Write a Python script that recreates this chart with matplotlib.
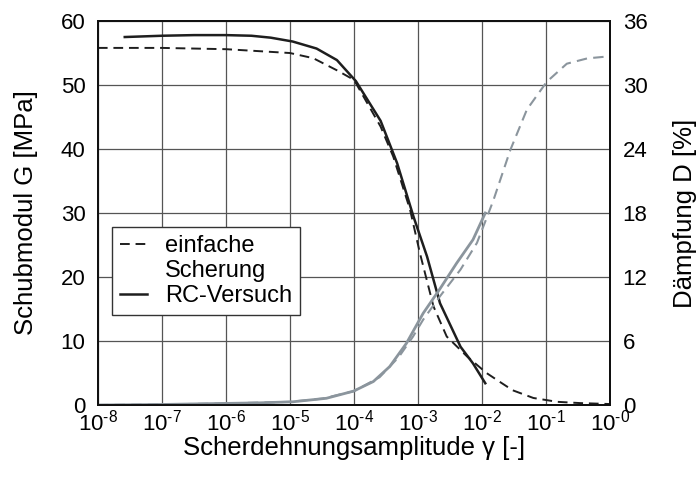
import numpy as np
import matplotlib
matplotlib.use("Agg")
import matplotlib.pyplot as plt
from matplotlib.lines import Line2D

plt.rcParams['font.family'] = ['Liberation Sans', 'DejaVu Sans']
plt.rcParams['mathtext.fontset'] = 'custom'
plt.rcParams['mathtext.rm'] = 'Liberation Sans'

# Schubmodul, RC-Versuch
strain_rc_G = [2.63e-8, 1e-7, 3.2e-7, 1e-6, 2.5e-6, 5e-6, 1.1e-5, 2.6e-5, 5.4e-5, 1.07e-4,
               2.6e-4, 4.7e-4, 8.5e-4, 1.38e-3, 2.2e-3, 4.6e-3, 7.2e-3, 1.12e-2]
G_rc = [57.5, 57.7, 57.8, 57.8, 57.7, 57.4, 56.8, 55.7, 53.9, 50.6,
        44.4, 37.8, 29.4, 23.2, 15.9, 9.1, 6.5, 3.4]

# Schubmodul, einfache Scherung
strain_ss_G = [1e-8, 1e-7, 1e-6, 3.2e-6, 1e-5, 2.3e-5, 5.4e-5, 1e-4, 2.6e-4, 4.1e-4, 7.5e-4,
               1.07e-3, 1.74e-3, 2.8e-3, 5.8e-3, 1.17e-2, 1.9e-2, 3.0e-2, 6.3e-2, 0.148, 0.34, 1.0]
G_ss = [55.8, 55.8, 55.6, 55.3, 55.0, 54.2, 52.3, 50.8, 43.5, 38.8, 30.5,
        23.7, 15.4, 10.7, 7.6, 5.0, 3.6, 2.3, 1.1, 0.5, 0.3, 0.15]

# Daempfung, RC-Versuch
strain_rc_D = [1e-8, 1e-7, 1e-6, 3.2e-6, 1.1e-5, 3.7e-5, 9.8e-5, 2.0e-4, 3.6e-4, 6.6e-4,
               1.2e-3, 2.2e-3, 4.0e-3, 7.2e-3, 1.12e-2]
D_rc = [0.0, 0.05, 0.15, 0.2, 0.3, 0.63, 1.3, 2.2, 3.6, 5.8, 8.6, 10.9, 13.3, 15.5, 18.0]

# Daempfung, einfache Scherung
strain_ss_D = [1e-8, 1e-7, 1e-6, 1e-5, 3.2e-5, 1e-4, 2.5e-4, 5e-4, 8.3e-4, 1.2e-3, 2.2e-3,
               4.6e-3, 8.3e-3, 1.17e-2, 1.5e-2, 2.75e-2, 5e-2, 0.102, 0.21, 0.44, 1.0]
D_ss = [0.0, 0.05, 0.15, 0.3, 0.6, 1.3, 2.6, 4.5, 6.4, 8.0, 10.2,
        12.7, 15.2, 17.5, 19.2, 23.9, 27.7, 30.3, 32.0, 32.5, 32.7]

x_ticks = [1e-8, 1e-7, 1e-6, 1e-5, 1e-4, 1e-3, 1e-2, 1e-1, 1e0]
x_labels = [r'$\mathregular{10^{\text{-}%d}}$' % k for k in [8, 7, 6, 5, 4, 3, 2, 1, 0]]

dark = '#1e1e1e'
grey = '#8b959d'

fig = plt.figure(figsize=(6.99, 4.78), dpi=100)
ax = fig.add_axes([0.140, 0.1527, 0.733, 0.8033])
ax2 = ax.twinx()

h_ss, = ax.plot(strain_ss_G, G_ss, color=dark, lw=1.4, ls=(0, (5, 3)))
h_rc, = ax.plot(strain_rc_G, G_rc, color=dark, lw=1.8)
ax2.plot(strain_ss_D, D_ss, color=grey, lw=1.5, ls=(0, (5, 3)))
ax2.plot(strain_rc_D, D_rc, color=grey, lw=2.0)

ax.set_xscale('log')
ax.set_xlim(1e-8, 1e0)
ax.set_ylim(0, 60)
ax2.set_ylim(0, 36)
ax.set_xticks(x_ticks)
ax.set_xticklabels(x_labels)
ax.xaxis.set_minor_locator(matplotlib.ticker.NullLocator())
ax.set_yticks(range(0, 61, 10))
ax2.set_yticks(range(0, 37, 6))
ax.grid(True, color='#555555', lw=0.9)

for a in (ax, ax2):
    a.tick_params(length=0, labelsize=16, pad=9)
    for s in a.spines.values():
        s.set_linewidth(1.4)
        s.set_color('#111111')
ax.tick_params(axis='x', pad=3)

ax.set_xlabel('Scherdehnungsamplitude γ [-]', fontsize=18.5)
ax.xaxis.set_label_coords(0.5, -0.08)
ax.set_ylabel('Schubmodul G [MPa]', fontsize=18.5, labelpad=16)
ax2.set_ylabel('Dämpfung D [%]', fontsize=18.5, labelpad=18)

# legend: dashed handle next to first line only
blank = Line2D([], [], color='none')
leg = ax.legend([h_ss, blank, h_rc], ['einfache', 'Scherung', 'RC-Versuch'],
                loc='upper left', bbox_to_anchor=(0.027, 0.4635), borderaxespad=0,
                fontsize=17, fancybox=False, edgecolor='#333333', framealpha=1,
                handlelength=1.15, handletextpad=0.75, labelspacing=0.12,
                borderpad=0.35)
leg.get_frame().set_linewidth(1.0)

fig.savefig('out.png', dpi=100)
